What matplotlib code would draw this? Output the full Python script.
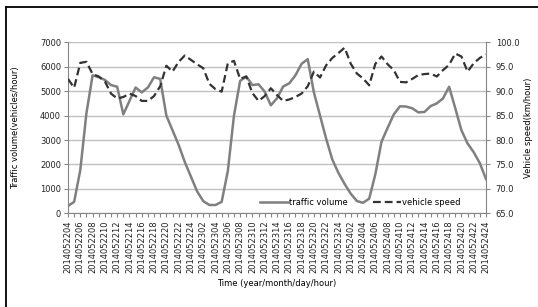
import matplotlib
matplotlib.use("Agg")
from matplotlib import pyplot as plt
from matplotlib.lines import Line2D
import numpy as np

# hourly stamps from 2014052204 to 2014052424
time_labels = ([f"20140522{h:02d}" for h in range(4, 25)]
               + [f"20140523{h:02d}" for h in range(1, 25)]
               + [f"20140524{h:02d}" for h in range(1, 25)])

traffic_volume = [300, 470, 1770, 4100, 5650, 5570, 5460, 5250, 5180, 4050,
                  4600, 5150, 4950, 5150, 5570, 5500, 4000, 3400, 2800, 2100,
                  1500, 900, 500, 340, 340, 470, 1730, 4000, 5420, 5600,
                  5250, 5280, 4980, 4420, 4710, 5190, 5320, 5650, 6120, 6310,
                  4950, 4000, 3050, 2200, 1650, 1200, 800, 500, 430, 600,
                  1600, 2930, 3500, 4050, 4380, 4370, 4300, 4130, 4150, 4390,
                  4500, 4700, 5180, 4300, 3400, 2860, 2500, 2050, 1400]

vehicle_speed = [92.5, 90.7, 95.8, 96.0, 93.5, 93.0, 92.0, 89.5, 88.5, 88.8,
                 89.5, 89.0, 88.0, 88.0, 89.0, 91.0, 95.2, 94.0, 96.0, 97.3,
                 96.4, 95.5, 94.7, 91.5, 90.4, 89.9, 95.7, 96.2, 92.5, 93.0,
                 89.6, 88.0, 89.0, 90.6, 89.2, 88.0, 88.3, 88.8, 89.5, 91.0,
                 94.0, 92.8, 95.3, 96.8, 97.8, 98.9, 95.6, 93.6, 92.6, 91.2,
                 95.6, 97.1, 95.5, 94.3, 91.9, 91.8, 92.5, 93.3, 93.5, 93.6,
                 93.0, 94.3, 95.4, 97.7, 97.1, 94.0, 95.7, 96.8, 97.5]

volume_ticks = [0, 1000, 2000, 3000, 4000, 5000, 6000, 7000]
speed_ticks = [65, 70, 75, 80, 85, 90, 95, 100]

fs = 6
axis_col = "#868686"

fig = plt.figure(figsize=(5.38, 3.07), dpi=100)
ax = fig.add_axes([68/538, 1-213.3/307, (486-68)/538, (213.3-42.3)/307])
ax2 = ax.twinx()

x = np.arange(len(time_labels))

for y in volume_ticks:
    ax.axhline(y, color="#c0c0c0", lw=1.0, zorder=0)

l1, = ax.plot(x, traffic_volume, color="#808080", lw=1.8, zorder=3,
              label="traffic volume")
l2, = ax2.plot(x, vehicle_speed, color="#333333", lw=1.6,
               dashes=(3.5, 1.8), label="vehicle speed")

ax.set_xlim(0, len(time_labels)-1)
ax.set_ylim(0, 7000)
ax2.set_ylim(65, 100)

ax.set_yticks(volume_ticks)
ax.set_yticklabels([str(v) for v in volume_ticks], fontsize=fs)
ax2.set_yticks(speed_ticks)
ax2.set_yticklabels([f"{v:.1f}" for v in speed_ticks], fontsize=fs)

ax.set_xticks(x)
ax.set_xticklabels([lab if i % 2 == 0 else "" for i, lab in enumerate(time_labels)],
                   rotation=90, fontsize=fs, color="#333333")

for a in (ax, ax2):
    for s in a.spines.values():
        s.set_visible(False)
    a.tick_params(length=3, width=0.8, color=axis_col, pad=2, labelcolor="#222222")
ax.spines["left"].set_visible(True)
ax.spines["left"].set_color(axis_col)
ax.spines["bottom"].set_visible(True)
ax.spines["bottom"].set_color(axis_col)
ax2.spines["right"].set_visible(True)
ax2.spines["right"].set_color(axis_col)
ax2.tick_params(pad=4)

ax.set_ylabel("Traffic volume(vehicles/hour)", fontsize=fs, labelpad=14)
ax2.set_ylabel("Vehicle speed(km/hour)", fontsize=fs, labelpad=3)
ax.set_xlabel("Time (year/month/day/hour)", fontsize=fs, labelpad=4)

ax2.legend(handles=[l1, l2], loc="center", bbox_to_anchor=(0.70, 0.066),
           ncol=2, frameon=False, fontsize=fs, handlelength=3.3,
           columnspacing=3.0, handletextpad=0.2)

fig.add_artist(Line2D([6/538, 6/538], [0, 1-7/307], color="black", lw=1.3))
fig.add_artist(Line2D([6/538, 1], [1-7/307, 1-7/307], color="black", lw=1.3))

fig.savefig("out.png", dpi=100)
